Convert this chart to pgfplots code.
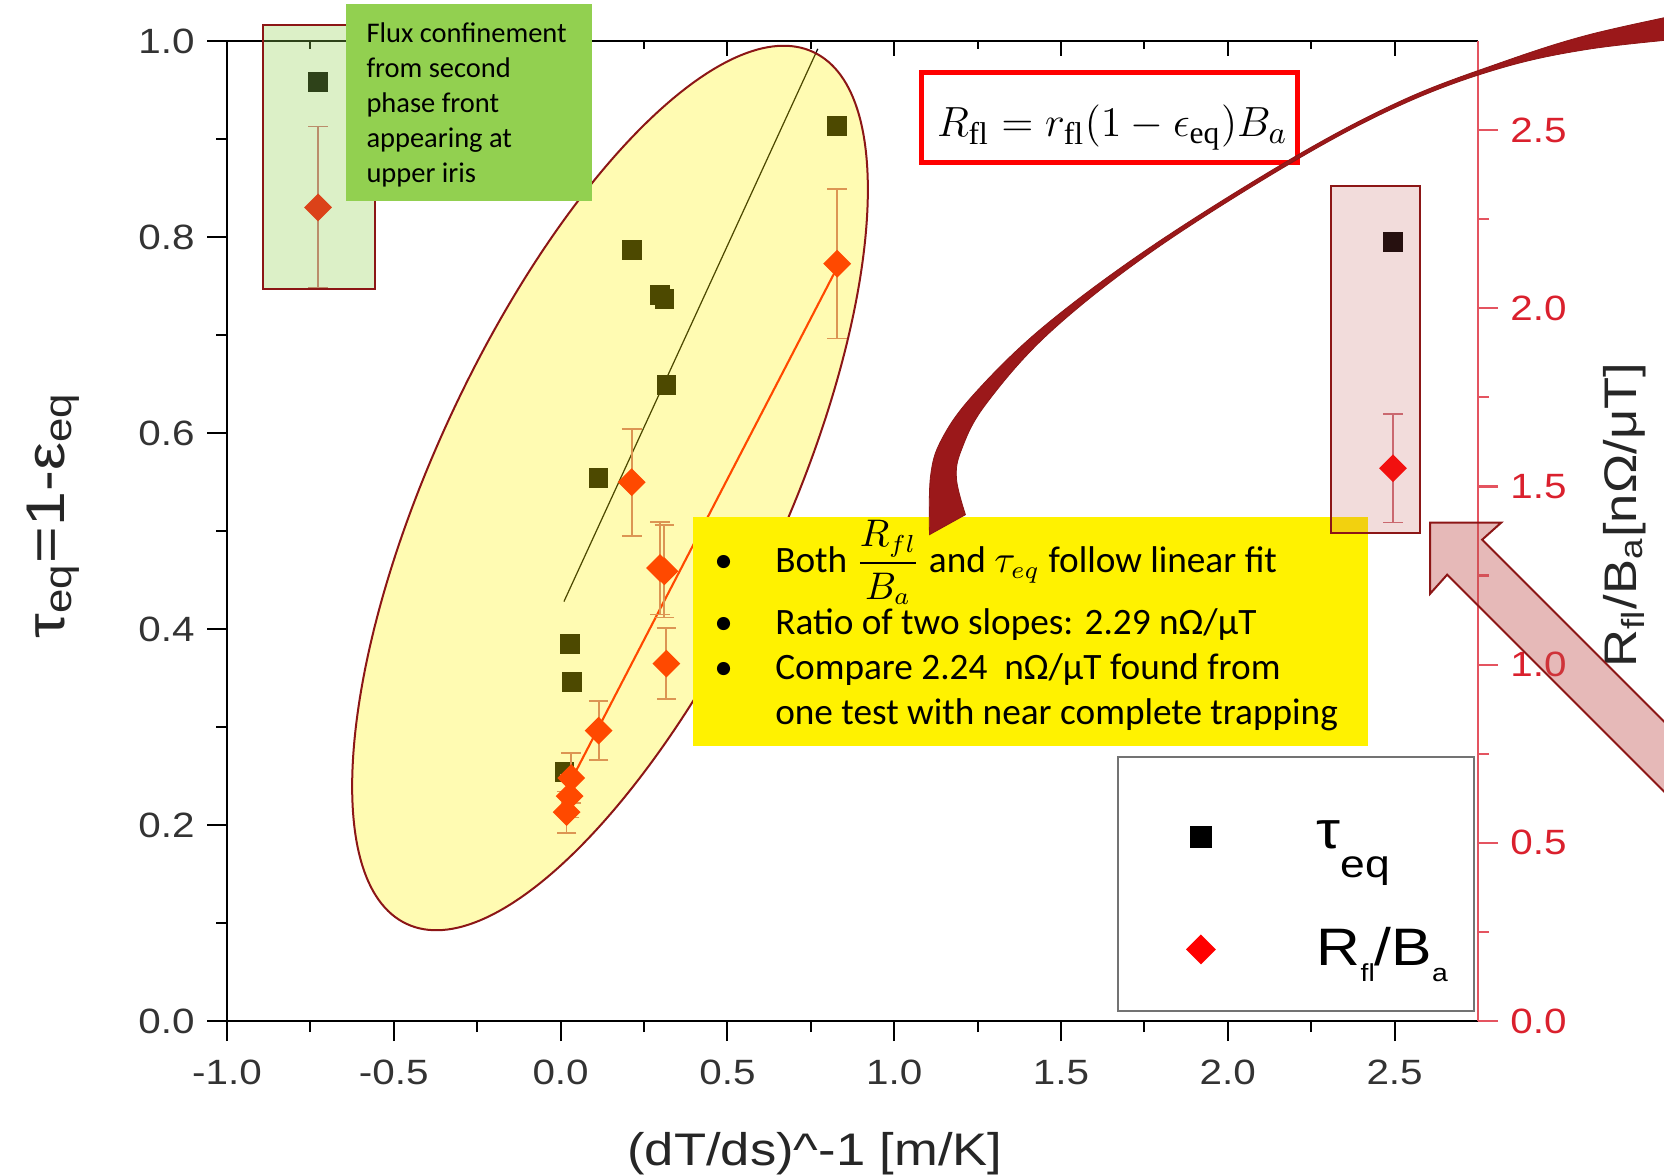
\documentclass[border=0pt]{standalone}
\usepackage{pgfplots}
\pgfplotsset{compat=1.18}
\usepackage{amsmath}
\usepackage{fontspec}
\setmainfont{Liberation Sans}[FakeStretch=1.15]
\newfontfamily\calib{Carlito}
\newfontfamily\timesf{Liberation Serif}
\definecolor{dred}{RGB}{140,22,22}
\definecolor{arrred}{RGB}{155,24,26}
\definecolor{axred}{RGB}{228,84,96}
\definecolor{labred}{RGB}{218,32,45}
\definecolor{pptgreen}{RGB}{146,208,80}
\definecolor{pptred}{RGB}{192,80,77}
\definecolor{errcol}{RGB}{205,110,120}

\pgfplotsset{
  common/.style={
    at={(2.27cm,1.54cm)}, anchor=south west,
    scale only axis, width=12.51cm, height=9.80cm,
    xmin=-1, xmax=2.75,
    major tick length=0.2cm, minor tick length=0.11cm,
    /pgf/number format/fixed, /pgf/number format/fixed zerofill,
    /pgf/number format/precision=1, /pgf/number format/assume math mode=true,
  }
}

\begin{document}
\begin{tikzpicture}

% left axis: tau_eq
\begin{axis}[common,
  ymin=0, ymax=1,
  axis x line*=box, axis y line*=left,
  xtick={-1,-0.5,0,0.5,1,1.5,2,2.5},
  ytick={0,0.2,0.4,0.6,0.8,1},
  minor x tick num=1, minor y tick num=1,
  xtick pos=left, ytick pos=left,
  tick align=outside,
  every tick/.style={black, line width=0.6pt},
  axis line style={black, line width=0.6pt},
  tick label style={font=\fontsize{10}{12}\selectfont, text=black!80},
  xticklabel style={yshift=-0.07cm},
  xlabel={(dT/ds)\textasciicircum-1 [m/K]},
  xlabel style={at={(axis description cs:0.47,-0.147)}, anchor=base,
    font=\fontsize{13}{15}\selectfont, text=black!85},
  ylabel={τ\textsubscript{eq}=1-ε\textsubscript{eq}},
  ylabel style={at={(axis description cs:-0.139,0.516)}, anchor=center,
    font=\fontsize{15.5}{17}\selectfont, text=black!85},
]
\addplot[only marks, mark=square*, mark size=2.6pt, black] coordinates {
  (-0.727,0.958) (0.829,0.913) (0.213,0.787) (0.298,0.741) (0.311,0.737)
  (0.317,0.649) (0.114,0.554) (0.029,0.385) (0.035,0.346) (0.012,0.254)
  (2.495,0.795)
};
% linear fit
\addplot[black, line width=0.35pt] coordinates {(0.010,0.428) (0.771,0.992)};
\end{axis}

% top ticks pointing in
\begin{axis}[common,
  ymin=0, ymax=1,
  axis x line*=top, axis y line=none,
  xtick={-1,-0.5,0,0.5,1,1.5,2,2.5}, minor x tick num=1,
  xticklabels={}, ytick=\empty,
  tick align=inside,
  major tick length=0.15cm, minor tick length=0.08cm,
  every tick/.style={black, line width=0.6pt},
  axis line style={black, line width=0.6pt},
]
\end{axis}

% right axis: R_fl/B_a
\begin{axis}[common,
  ymin=0, ymax=2.75,
  axis x line=none, axis y line*=right,
  ytick={0,0.5,1,1.5,2,2.5}, minor y tick num=1,
  tick align=outside,
  every tick/.style={axred, line width=0.6pt},
  axis line style={axred, line width=0.8pt},
  yticklabel style={font=\fontsize{10}{12}\selectfont, text=labred},
  ylabel={R\textsubscript{fl}/B\textsubscript{a}[nΩ/μT]},
  ylabel style={at={(axis description cs:1.117,0.516)}, anchor=center,
    font=\fontsize{13}{15}\selectfont, text=black!85},
  legend image code/.code={
    \path[draw=none, fill=none] (0cm,-0.1cm) rectangle (1.1cm,0.1cm);
    \draw[#1] plot coordinates {(0.55cm,0cm)};},
  legend cell align=left,
  legend style={at={(0.9976,0.009)}, anchor=south east,
    draw=black!55, line width=0.6pt, fill=white,
    inner xsep=0.28cm, inner ysep=0.4cm, row sep=0.74cm, column sep=0.61cm,
    font=\fontsize{15}{17}\selectfont,
    nodes={text width=1.29cm, align=left, inner sep=0pt, anchor=west}},
]
\addlegendimage{only marks, mark=square*, mark size=2.85pt, black,
  legend image code/.code={
    \path[draw=none, fill=none] (0cm,-0.1cm) rectangle (1.1cm,0.40cm);
    \draw[##1] plot coordinates {(0.55cm,0cm)};}}
\addlegendentry{τ\raisebox{-0.55em}{\fontsize{11}{11}\selectfont eq}}
\addlegendimage{only marks, mark=square*, mark size=2.7pt, red, mark options={rotate=45}}
\addlegendentry{R\raisebox{-0.3em}{\fontsize{7}{7}\selectfont fl}/B\raisebox{-0.3em}{\fontsize{7}{7}\selectfont a}}
% linear fit
\addplot[red, line width=0.6pt, forget plot] coordinates {(0.027,0.667) (0.835,2.125)};
\addplot[only marks, mark=square*, mark size=2.6pt, red, forget plot,
  mark options={rotate=45, fill=red, draw=red},
  error bars/.cd, y dir=both, y explicit,
  error bar style={errcol, line width=0.5pt},
  error mark options={errcol, line width=0.5pt, mark size=2.8pt, rotate=90}]
  coordinates {
  (-0.727,2.283) +- (0,0.227)
  (0.829,2.125) +- (0,0.21)
  (0.213,1.512) +- (0,0.15)
  (0.298,1.271) +- (0,0.13)
  (0.311,1.262) +- (0,0.13)
  (0.317,1.003) +- (0,0.10)
  (0.114,0.815) +- (0,0.083)
  (0.032,0.682) +- (0,0.07)
  (0.027,0.631) +- (0,0.06)
  (0.018,0.586) +- (0,0.058)
  (2.495,1.551) +- (0,0.152)
};
\end{axis}

% highlight ellipse
\draw[dred, line width=0.02cm, fill=yellow, fill opacity=0.3,
  rotate around={65:(6.10,6.87)}] (6.10,6.87) ellipse [x radius=4.81, y radius=1.75];

\begin{scope}[shift={(0cm,11.75cm)}, x=0.01cm, y=-0.01cm]
  % green box round the first point
  \draw[dred, line width=0.02cm, fill=pptgreen, fill opacity=0.32] (263,25) rectangle (375,289);
  \fill[pptgreen] (346,4) rectangle (592,201);
  \node[anchor=north west, align=left, inner sep=0pt,
    font=\calib\fontsize{8.1}{9.95}\selectfont] at (366,22)
    {Flux confinement\\from second\\phase front\\appearing at\\upper iris};

  % yellow note
  \fill[yellow] (693,517) rectangle (1369,746);
  \begin{scope}[every node/.style={anchor=base west, inner sep=0pt,
      font=\calib\fontsize{10.6}{12.7}\selectfont}]
    \node at (714,573) {•};
    \node at (775,573) {Both $\dfrac{R_{fl}}{B_a}$ and $\tau_{eq}$ follow linear fit};
    \node at (714,635) {•};
    \node at (775,635) {Ratio of two slopes: 2.29 nΩ/μT};
    \node at (714,680) {•};
    \node at (775,680) {Compare 2.24\ \ nΩ/μT found from};
    \node at (775,725) {one test with near complete trapping};
  \end{scope}

  % formula
  \draw[red, line width=0.05cm] (922.5,72.5) rectangle (1298.5,162.5);
  \node[anchor=base, inner sep=0pt, font=\fontsize{12.8}{15}\selectfont] at (1113,137)
    {$R_{\text{\timesf fl}} = r_{\text{\timesf fl}}(1-\epsilon_{\text{\timesf eq}})B_a$};

  % pink box round the last point
  \draw[dred, line width=0.02cm, fill=pptred, fill opacity=0.2] (1332,186) rectangle (1421,533);

  % curved arrow
  \filldraw[fill=arrred, draw=dred, line width=0.008cm]
    plot[smooth, tension=0.6] coordinates {(930,535) (931,477) (942,440) (974,395) (1044,327)
      (1153,246) (1296,156.5) (1403,100.4) (1499,63.6) (1589,35) (1698,11)}
    -- plot[smooth, tension=0.6] coordinates {(1702,37) (1591,49) (1501,68.4) (1405,103.6)
      (1298,159.5) (1155,250) (1050,333) (986,405) (962,450) (957,479) (966,515)}
    -- cycle;

  % straight arrow
  \draw[dred, line width=0.02cm, fill=pptred, fill opacity=0.4]
    (1431,523) -- (1502,523) -- (1483,540) -- (1720,777) -- (1720,847)
    -- (1448,575) -- (1431,594) -- cycle;
\end{scope}

\pgfresetboundingbox
\useasboundingbox (0,0) rectangle (16.64,11.75);
\end{tikzpicture}
\end{document}
